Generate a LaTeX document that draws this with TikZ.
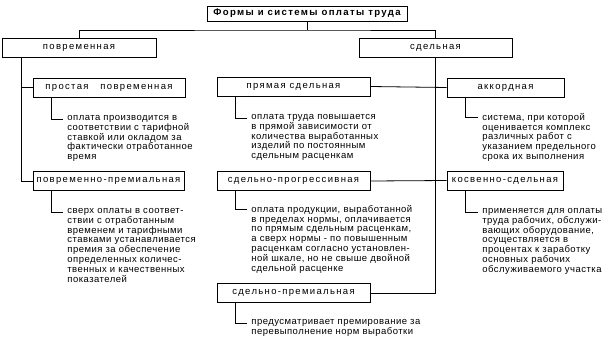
\documentclass[tikz,border=0pt]{standalone}
\usepackage{fontspec}
\setmainfont{Liberation Sans}
\newfontfamily\notefont{Liberation Sans}[LetterSpace=5]
\newfontfamily\boxfont{Liberation Sans}[LetterSpace=14]
\begin{document}
\begin{tikzpicture}[x=1pt,y=-1pt,line width=0.8pt,
  box/.style={draw,font=\boxfont\fontsize{9.5}{9.7}\selectfont,inner sep=0pt,minimum height=19pt},
  note/.style={font=\notefont\fontsize{9.5}{9.9}\selectfont,inner sep=0pt,anchor=north west,align=left,
    execute at begin node=\strut}]
\useasboundingbox (0,0) rectangle (613,341);
% заголовок и две формы
\node[box,minimum width=200pt,minimum height=15pt,font=\boxfont\fontsize{9.6}{9.7}\selectfont\bfseries] (title) at (307,13.5) {Формы и системы оплаты труда};
\node[box,minimum width=154pt] (povr) at (79,47.5) {повременная};
\node[box,minimum width=153pt] (sdel) at (435.5,47.5) {сдельная};
\coordinate (top) at (307,30);
\draw (title) -- (top);
\draw (povr.north) |- (top) -| (sdel.north);
% повременная
\node[box,minimum width=152pt] (prost) at (109,87.5) {простая~~~повременная};
\node[box,minimum width=151pt] (povrprem) at (108.5,181) {повременно-премиальная};
\coordinate (lt) at ([xshift=20pt]povr.south west);
\draw (lt) |- (povrprem.west);
\draw (lt |- prost.west) -- (prost.west);
% сдельная
\node[box,minimum width=153pt] (pryam) at (293.5,86.5) {прямая сдельная};
\node[box,minimum width=153pt] (progr) at (293.5,181) {сдельно-прогрессивная};
\node[box,minimum width=153pt] (sdprem) at (293.5,293) {сдельно-премиальная};
\node[box,minimum width=117pt] (akk) at (505.5,87.5) {аккордная};
\node[box,minimum width=116pt] (kosv) at (505,180.5) {косвенно-сдельная};
\draw (sdel.south) |- (sdprem.east);
\draw (pryam.east) -- (akk.west);
\draw (progr.east) -- (kosv.west);
% пояснения
\node[note] (t1) at (67,114.7) {оплата производится в\\соответствии с тарифной\\ставкой или окладом за\\фактически отработанное\\время};
\node[note] (t2) at (67,207.7) {сверх оплаты в соответ-\\ствии с отработанным\\временем и тарифными\\ставками устанавливается\\премия за обеспечение\\определенных количес-\\твенных и качественных\\показателей};
\node[note] (t3) at (251,113.7) {оплата труда повышается\\в прямой зависимости от\\количества выработанных\\изделий по постоянным\\сдельным расценкам};
\node[note] (t4) at (251,204.7) {оплата продукции, выработанной\\в пределах нормы, оплачивается\\по прямым сдельным расценкам,\\а сверх нормы - по повышенным\\расценкам согласно установлен-\\ной шкале, но не свыше двойной\\сдельной расценке};
\node[note] (t5) at (251,318.7) {предусматривает премирование за\\перевыполнение норм выработки};
\node[note] (t6) at (482,112.7) {система, при которой\\оценивается комплекс\\различных работ с\\указанием предельного\\срока их выполнения};
\node[note] (t7) at (482,207.7) {применяется для оплаты\\труда рабочих, обслужи-\\вающих оборудование,\\осуществляется в\\процентах к заработку\\основных рабочих\\обслуживаемого участка};
\foreach \b/\t in {prost/t1,povrprem/t2,pryam/t3,progr/t4,sdprem/t5,akk/t6,kosv/t7}
  \draw ([xshift=19pt]\b.south west) |- ([xshift=-4pt,yshift=-4.3pt]\t.north west);
\end{tikzpicture}
\end{document}
